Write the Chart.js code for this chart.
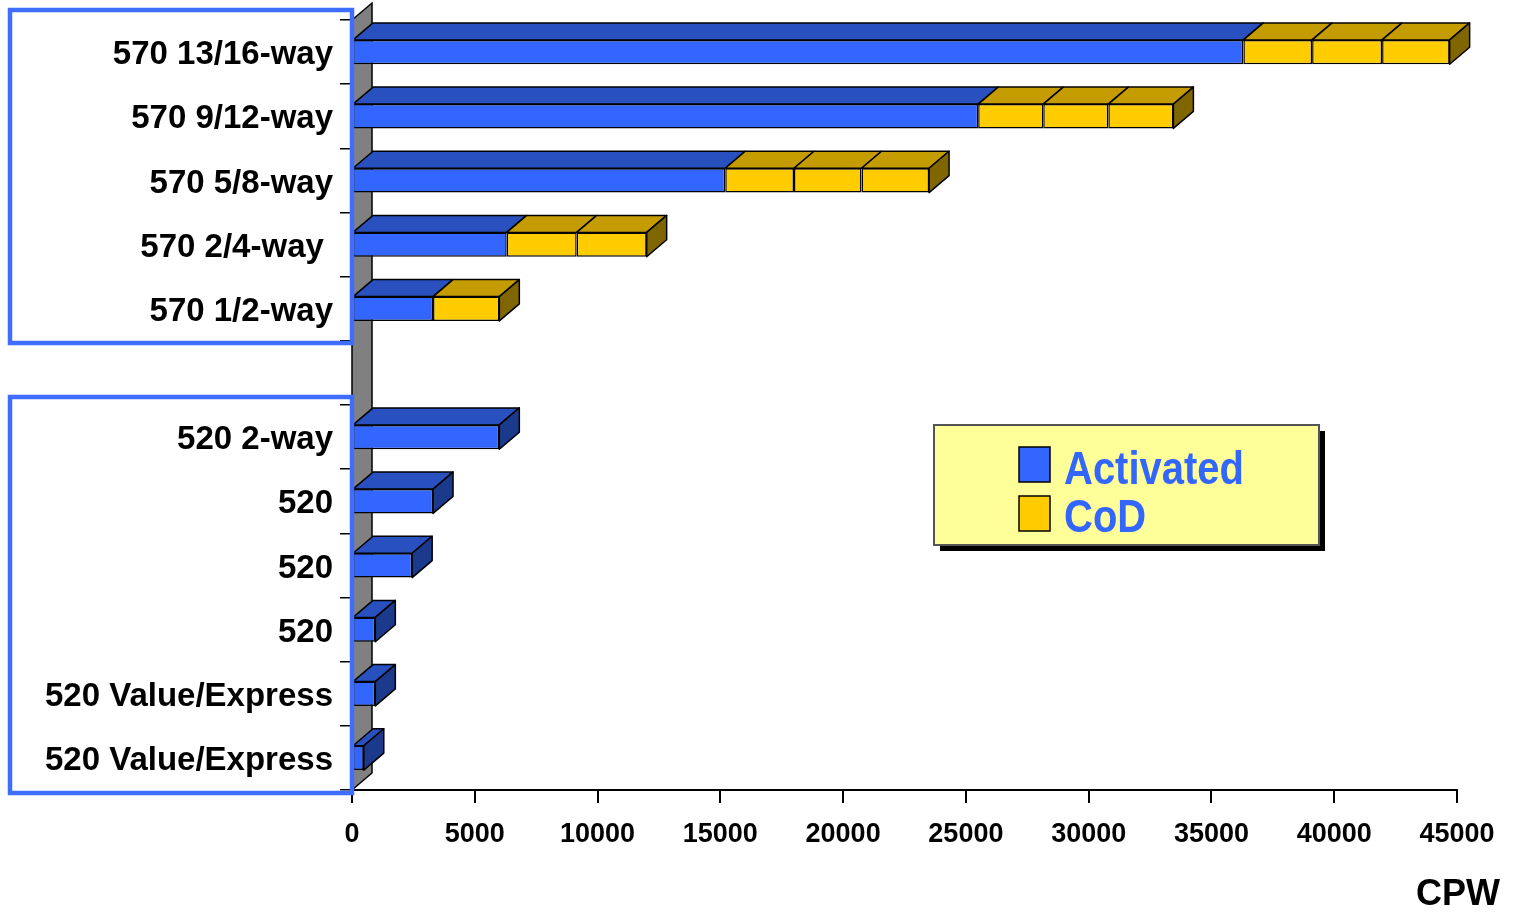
<!DOCTYPE html>
<html>
<head>
<meta charset="utf-8">
<script src="https://cdn.jsdelivr.net/npm/chart.js@4.4.1/dist/chart.umd.min.js"></script>
<style>
  html, body { margin: 0; padding: 0; background: #fff; }
  #wrap { width: 1518px; height: 917px; position: relative; }
</style>
</head>
<body>
<div id="wrap"><canvas id="cpwChart" width="1518" height="917"></canvas></div>
<script>
// categories, top to bottom (empty slot separates the 570 and 520 groups)
const categories = [
  '570 13/16-way', '570 9/12-way', '570 5/8-way', '570 2/4-way ', '570 1/2-way',
  '', '520 2-way', '520', '520', '520', '520 Value/Express', '520 Value/Express'
];
// CPW values
const activated = [36300, 25500, 15200, 6300, 3300, null, 6000, 3300, 2450, 950, 950, 480];
const cod1 = [2800, 2650, 2800, 2850, 2700, null, null, null, null, null, null, null];
const cod2 = [2850, 2650, 2750, 2850, null, null, null, null, null, null, null, null];
const cod3 = [2750, 2650, 2750, null, null, null, null, null, null, null, null, null];
const xTicks = [0, 5000, 10000, 15000, 20000, 25000, 30000, 35000, 40000, 45000];
const legendLabels = ['Activated', 'CoD'];

const FONT = '"Liberation Sans", Arial, sans-serif';
const BLUE = '#3366FF', BLUE_TOP = '#2850BE', BLUE_SIDE = '#1C3A8C';
const GOLD = '#FFCC00', GOLD_TOP = '#C49C00', GOLD_SIDE = '#806600';
const DX = 20, DY = 17;

function poly(ctx, pts, fill) {
  ctx.beginPath();
  ctx.moveTo(pts[0][0], pts[0][1]);
  for (let i = 1; i < pts.length; i++) ctx.lineTo(pts[i][0], pts[i][1]);
  ctx.closePath();
  ctx.fillStyle = fill;
  ctx.fill();
  ctx.stroke();
}

// grey side wall behind the bars
const wallPlugin = {
  id: 'wall',
  beforeDatasetsDraw(chart) {
    const { ctx, chartArea: a } = chart;
    ctx.save();
    ctx.strokeStyle = '#000';
    ctx.lineWidth = 1.5;
    poly(ctx, [[a.left, a.top], [a.left + DX, a.top - DY], [a.left + DX, a.bottom - DY], [a.left, a.bottom]], '#808080');
    ctx.restore();
  }
};

// top and side faces of each bar, from the bar elements' own positions
const depthPlugin = {
  id: 'depth',
  afterDatasetsDraw(chart) {
    const ctx = chart.ctx;
    ctx.save();
    ctx.strokeStyle = '#000';
    ctx.lineWidth = 1.5;
    ctx.lineJoin = 'round';
    const n = chart.data.labels.length;
    for (let i = 0; i < n; i++) {
      let last = null;
      chart.data.datasets.forEach((ds, d) => {
        if (ds.data[i] == null) return;
        const bar = chart.getDatasetMeta(d).data[i];
        const p = bar.getProps(['x', 'y', 'base', 'height'], true);
        const top = p.y - p.height / 2;
        const isBlue = d === 0;
        poly(ctx, [[p.base, top], [p.base + DX, top - DY], [p.x + DX, top - DY], [p.x, top]], isBlue ? BLUE_TOP : GOLD_TOP);
        last = { p, top, isBlue };
      });
      if (last) {
        const { p, top, isBlue } = last;
        const bottom = p.y + p.height / 2;
        poly(ctx, [[p.x, top], [p.x + DX, top - DY], [p.x + DX, bottom - DY], [p.x, bottom]], isBlue ? BLUE_SIDE : GOLD_SIDE);
      }
    }
    ctx.restore();
  }
};

// label frames, legend box and axis title
const overlayPlugin = {
  id: 'overlay',
  afterDraw(chart) {
    const ctx = chart.ctx;
    ctx.save();
    ctx.strokeStyle = '#3F6DFF';
    ctx.lineWidth = 4.5;
    ctx.strokeRect(10, 10, 342, 333);
    ctx.strokeRect(10, 397, 342, 396);

    // legend
    ctx.fillStyle = '#000';
    ctx.fillRect(940, 431, 385, 120);
    ctx.fillStyle = '#FFFF99';
    ctx.fillRect(934, 425, 385, 120);
    ctx.strokeStyle = '#555';
    ctx.lineWidth = 2;
    ctx.strokeRect(934, 425, 385, 120);
    ctx.lineWidth = 1.5;
    ctx.strokeStyle = '#000';
    ctx.fillStyle = BLUE;
    ctx.fillRect(1019, 447, 31, 35);
    ctx.strokeRect(1019, 447, 31, 35);
    ctx.fillStyle = GOLD;
    ctx.fillRect(1019, 496, 31, 35);
    ctx.strokeRect(1019, 496, 31, 35);

    ctx.fillStyle = BLUE;
    ctx.font = 'bold 46px ' + FONT;
    ctx.textBaseline = 'alphabetic';
    ctx.textAlign = 'left';
    const sx = 180 / ctx.measureText(legendLabels[0]).width;
    ctx.save();
    ctx.translate(1064, 484);
    ctx.scale(sx, 1);
    ctx.fillText(legendLabels[0], 0, 0);
    ctx.restore();
    ctx.save();
    ctx.translate(1064, 532);
    ctx.scale(sx, 1);
    ctx.fillText(legendLabels[1], 0, 0);
    ctx.restore();

    // axis title
    ctx.fillStyle = '#000';
    ctx.font = 'bold 36px ' + FONT;
    ctx.textAlign = 'right';
    ctx.fillText('CPW', 1500, 905);
    ctx.restore();
  }
};

const barOpts = { borderColor: '#000', borderWidth: 1.5, borderSkipped: false, barPercentage: 0.38, categoryPercentage: 1 };

new Chart(document.getElementById('cpwChart'), {
  type: 'bar',
  data: {
    labels: categories,
    datasets: [
      { label: 'Activated', data: activated, backgroundColor: BLUE, ...barOpts },
      { label: 'CoD', data: cod1, backgroundColor: GOLD, ...barOpts },
      { label: 'CoD', data: cod2, backgroundColor: GOLD, ...barOpts },
      { label: 'CoD', data: cod3, backgroundColor: GOLD, ...barOpts },
    ],
  },
  options: {
    indexAxis: 'y',
    responsive: false,
    animation: false,
    layout: { padding: { top: 20, right: 61, left: 0, bottom: 0 } },
    plugins: { legend: { display: false }, tooltip: { enabled: false } },
    scales: {
      x: {
        stacked: true,
        min: 0,
        max: 45000,
        afterBuildTicks(scale) { scale.ticks = xTicks.map(v => ({ value: v })); },
        afterFit(scale) { scale.height = 127; },
        border: { display: true, color: '#000', width: 2 },
        grid: { drawOnChartArea: false, color: '#000', lineWidth: 2, tickLength: 13 },
        ticks: {
          color: '#000', font: { family: FONT, size: 27, weight: 'bold' }, padding: 15,
          maxRotation: 0, autoSkip: false, callback: v => String(v),
        },
      },
      y: {
        stacked: true,
        afterFit(scale) {
          scale.width = 352;
          scale.paddingTop = 0;
          scale.paddingBottom = 0;
        },
        border: { display: false },
        grid: { drawOnChartArea: false, color: '#000', lineWidth: 1.5, tickLength: 12, offset: true },
        ticks: { color: '#000', font: { family: FONT, size: 33, weight: 'bold' }, padding: 7, labelOffset: 3, autoSkip: false },
      },
    },
  },
  plugins: [wallPlugin, depthPlugin, overlayPlugin],
});
</script>
</body>
</html>
